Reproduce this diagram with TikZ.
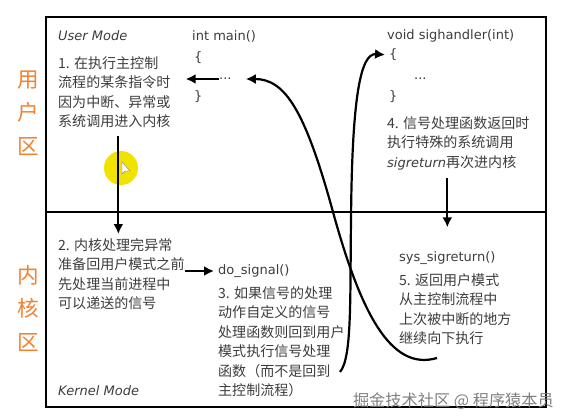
\documentclass[tikz,border=0pt]{standalone}
\usepackage{fontspec}
\setmainfont{DejaVu Sans}
\newfontfamily\cjk[Scale=1.08]{Noto Sans CJK SC}
\usetikzlibrary{arrows.meta}
\definecolor{inkgray}{HTML}{3C3C3C}
\definecolor{zoneorange}{HTML}{F08232}
\definecolor{markyellow}{HTML}{F2E200}

\begin{document}
\begin{tikzpicture}[x=1pt,y=-1pt,
    txt/.style={anchor=north west,inner sep=0pt,text=inkgray,align=left,font=\fontsize{13}{19.5}\selectfont\cjk},
    code/.style={anchor=west,inner sep=0pt,text=inkgray,font=\fontsize{13}{16}\selectfont},
    mode/.style={code,font=\fontsize{13}{16}\selectfont\itshape},
    zone/.style={text=zoneorange,align=center,font=\fontsize{20}{33.5}\selectfont\cjk},
    flow/.style={line width=2.2pt,-{Latex[length=10pt,width=10pt]}}]
\useasboundingbox (0,0) rectangle (566,420);
\fill[markyellow] (121,168) circle (17);
\draw[fill=white,draw=gray] (122,162) -- ++(0,12) -- ++(3,-3) -- ++(5,0) -- cycle;
\draw[line width=2.2pt] (46,17) rectangle (546,407);
\draw[line width=2.2pt] (46,212) -- (546,212);

\node[zone] (zoneuser) at (28,113) {用\\户\\区};
\node[zone] (zonekernel) at (28,308) {内\\核\\区};

\node[mode] (usermode) at (58,36) {User Mode};
\node[txt] (step1) at (58,56) {1. 在执行主控制\\流程的某条指令时\\因为中断、异常或\\系统调用进入内核};
\node[code] (main) at (192,36) {int main()};
\node[code] (mainopen) at (194,58) {\{};
\node[code] (maindots) at (219,79) {...};
\node[code] (mainclose) at (194,97) {\}};

\node[code] (handler) at (387,36) {void sighandler(int)};
\node[code] (handleropen) at (389,55) {\{};
\node[code] (handlerdots) at (414,79) {...};
\node[code] (handlerclose) at (389,97) {\}};
\node[txt] (step4) at (387,116) {4. 信号处理函数返回时\\执行特殊的系统调用\\{\normalfont\itshape sigreturn}再次进内核};

\node[txt] (step2) at (58,238) {2. 内核处理完异常\\准备回用户模式之前\\先处理当前进程中\\可以递送的信号};
\node[code] (dosignal) at (218,271) {do\_signal()};
\node[txt] (step3) at (218,286) {3. 如果信号的处理\\动作自定义的信号\\处理函数则回到用户\\模式执行信号处理\\函数（而不是回到\\主控制流程）};
\node[code] (sigret) at (399,258) {sys\_sigreturn()};
\node[txt] (step5) at (399,273) {5. 返回用户模式\\从主控制流程中\\上次被中断的地方\\继续向下执行};
\node[mode] (kernelmode) at (58,391) {Kernel Mode};

\node[anchor=east,inner sep=0pt,text=gray,font=\fontsize{15}{16}\selectfont\cjk] (mark) at (554,401) {掘金技术社区 @ 程序猿本员};

\draw[flow,shorten >=3pt] (maindots.west) -- ([xshift=12pt]maindots.west -| step1.east);
\draw[flow,shorten <=8pt,shorten >=4pt] ([xshift=4pt]step1.south) -- ([xshift=4pt]step1.south |- step2.north);
\draw[flow,shorten >=4pt] (step2.east |- dosignal.west) -- (dosignal.west);
\draw[flow,shorten <=8pt,shorten >=24pt] (sigret.north |- step4.south) -- (sigret.north);

\coordinate (loopend) at (437,358);
\coordinate (hookend) at (340,372);
\draw[flow,shorten >=14pt] (loopend) .. controls (390,372) and (360,310) .. (333,212) .. controls (305,110) and (285,79) .. (maindots.east);
\draw[flow,shorten >=4pt] (hookend) .. controls (352,358) and (350,300) .. (351,220) .. controls (352,100) and (360,53) .. (handleropen.west);
\end{tikzpicture}
\end{document}
